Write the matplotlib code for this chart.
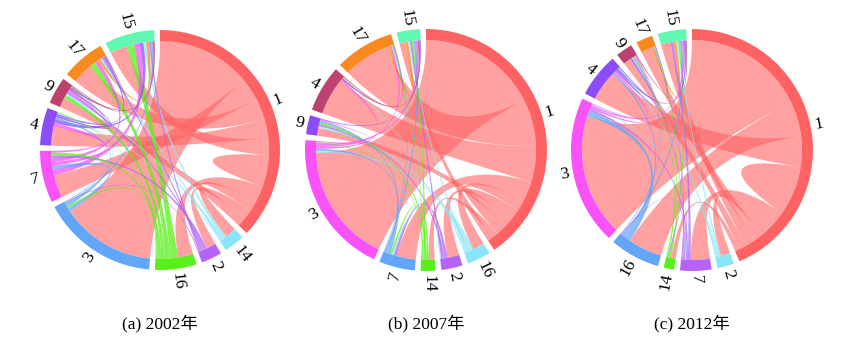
import numpy as np
import matplotlib.pyplot as plt
from matplotlib.patches import Polygon

# sector order (clockwise from top) and links (a, b, value) for each year
labels_a = ['1', '14', '2', '16', '3', '7', '4', '9', '17', '15']
links_a = [
    ('1', '1', 8.5), ('1', '14', 6), ('1', '2', 5), ('1', '16', 8), ('1', '3', 50),
    ('1', '7', 12), ('1', '4', 10), ('1', '9', 5), ('1', '17', 11), ('1', '15', 9),
    ('14', '15', 1.5), ('14', '9', 1), ('14', '4', 0.5), ('14', '17', 1),
    ('2', '7', 1.5), ('2', '17', 1), ('2', '15', 1), ('2', '3', 0.5), ('2', '9', 1),
    ('16', '15', 4), ('16', '17', 3), ('16', '9', 2), ('16', '7', 1.5), ('16', '3', 1), ('16', '4', 0.5),
    ('3', '7', 2), ('3', '4', 1), ('3', '9', 0.5), ('3', '15', 1),
    ('7', '15', 3), ('7', '17', 2), ('7', '9', 1), ('7', '4', 2),
    ('4', '9', 1), ('4', '17', 1), ('4', '15', 2),
    ('9', '17', 0.5), ('9', '15', 1),
    ('17', '15', 1.5),
]

labels_b = ['1', '16', '2', '14', '7', '3', '9', '4', '17', '15']
links_b = [
    ('1', '1', 3), ('1', '16', 6), ('1', '2', 6), ('1', '14', 3), ('1', '7', 10),
    ('1', '3', 62), ('1', '9', 4), ('1', '4', 19), ('1', '17', 24), ('1', '15', 3),
    ('16', '2', 0.5), ('16', '7', 1), ('16', '3', 1), ('16', '9', 1), ('16', '4', 0.5), ('16', '15', 1),
    ('2', '7', 1.5), ('2', '9', 1), ('2', '15', 1),
    ('14', '7', 1), ('14', '9', 1), ('14', '3', 0.5), ('14', '15', 1), ('14', '17', 0.5),
    ('7', '3', 1), ('7', '9', 1), ('7', '15', 1), ('7', '17', 0.5),
    ('3', '9', 0.5), ('3', '15', 1), ('3', '4', 1), ('3', '17', 1),
    ('9', '15', 0.5),
    ('4', '15', 1), ('4', '17', 0.5),
    ('17', '15', 1.5),
]

labels_c = ['1', '2', '7', '14', '16', '3', '4', '9', '17', '15']
links_c = [
    ('1', '1', 13), ('1', '2', 5), ('1', '7', 10), ('1', '14', 2.5), ('1', '16', 18),
    ('1', '3', 64), ('1', '4', 16), ('1', '9', 4), ('1', '17', 5), ('1', '15', 5),
    ('2', '7', 0.5), ('2', '15', 1), ('2', '9', 0.5), ('2', '3', 0.5), ('2', '4', 0.5),
    ('7', '14', 0.5), ('7', '15', 1.5), ('7', '9', 0.5), ('7', '3', 1), ('7', '16', 0.5), ('7', '17', 0.5),
    ('14', '15', 1), ('14', '9', 0.5), ('14', '17', 0.5),
    ('16', '3', 3), ('16', '15', 1), ('16', '9', 0.5), ('16', '4', 1),
    ('3', '4', 1), ('3', '15', 1), ('3', '9', 0.5),
    ('4', '15', 1), ('4', '17', 0.5), ('4', '9', 1),
    ('9', '15', 0.5),
    ('17', '15', 1.5),
]

captions = ['(a) 2002年', '(b) 2007年', '(c) 2012年']

# colours follow the sector position
palette = ['#FF6262', '#88E6F8', '#B464F8', '#58F01A', '#62A6F8',
           '#F852F8', '#8C4CFA', '#BE4270', '#FA8A1E', '#62F8B2']


def xy(cx, cy, ang, r):
    t = np.radians(ang)
    return cx + r * np.sin(t), cy - r * np.cos(t)


def arc_pts(cx, cy, a0, a1, r, n=40):
    t = np.linspace(a0, a1, n)
    x, y = xy(cx, cy, t, r)
    return np.column_stack([x, y])


def bez_pts(cx, cy, p0, p2, n=50):
    t = np.linspace(0, 1, n)[:, None]
    c = np.array([cx, cy])
    return (1 - t) ** 2 * p0 + 2 * t * (1 - t) * c + t ** 2 * p2


def chord(ax, cx, cy, labels, links, R, width=11, gap=2.8):
    n = len(labels)
    tot = {s: 0.0 for s in labels}
    for a, b, v in links:
        tot[a] += v
        tot[b] += v
    scale = (360 - n * gap) / sum(tot.values())
    start = {}
    ang = 0.0
    for s in labels:
        start[s] = ang
        ang += tot[s] * scale + gap
    mid = {s: start[s] + tot[s] * scale / 2 for s in labels}

    # link ends inside a sector: widest first
    pos = {}
    for s in labels:
        ends = []
        for k, (a, b, v) in enumerate(links):
            if a == s and b == s:
                ends.append((-v, labels.index(s), k, 0))
                ends.append((-v, labels.index(s), k, 1))
            elif a == s:
                ends.append((-v, labels.index(b), k, 0))
            elif b == s:
                ends.append((-v, labels.index(a), k, 1))
        ends.sort()
        p = start[s]
        for nv, idx, k, side in ends:
            pos[(k, side)] = (p, p - nv * scale)
            p -= nv * scale

    rin = R - width
    order = sorted(range(len(links)), key=lambda k: -links[k][2])
    for k in order:
        a, b, v = links[k]
        a0, a1 = pos[(k, 0)]
        b0, b1 = pos[(k, 1)]
        pa = arc_pts(cx, cy, a0, a1, rin)
        pb = arc_pts(cx, cy, b0, b1, rin)
        pts = np.vstack([pa, bez_pts(cx, cy, pa[-1], pb[0]), pb, bez_pts(cx, cy, pb[-1], pa[0])])
        ci = min(labels.index(a), labels.index(b))
        alpha = 0.6 if ci == 0 else 0.75
        ax.add_patch(Polygon(pts, closed=True, facecolor=palette[ci], edgecolor='none',
                             alpha=alpha, zorder=2))

    for i, s in enumerate(labels):
        a0 = start[s]
        a1 = a0 + tot[s] * scale
        ring = np.vstack([arc_pts(cx, cy, a0, a1, R), arc_pts(cx, cy, a1, a0, rin)])
        ax.add_patch(Polygon(ring, closed=True, facecolor=palette[i], edgecolor='none', zorder=3))
        lx, ly = xy(cx, cy, mid[s], R + 4)
        rot = (90 - mid[s] + 180) % 360 - 180
        ha = 'left'
        if rot > 90 or rot < -90:
            rot = rot - 180 if rot > 0 else rot + 180
            ha = 'right'
        ax.text(lx, ly, s, rotation=rot, rotation_mode='anchor', ha=ha, va='center',
                fontsize=12.5, family='Liberation Serif', zorder=4)


fig = plt.figure(figsize=(8.51, 3.40), dpi=100)
ax = fig.add_axes([0, 0, 1, 1])
ax.set_xlim(0, 851)
ax.set_ylim(340, 0)
ax.axis('off')

centers = [160, 426, 692]
chord(ax, centers[0], 150, labels_a, links_a, 120)
chord(ax, centers[1], 150, labels_b, links_b, 121)
chord(ax, centers[2], 150, labels_c, links_c, 121)

for x, t in zip(centers, captions):
    ax.text(x, 323, t, ha='center', va='center', fontsize=12.5,
            family=['Liberation Serif', 'Noto Sans CJK SC'])

fig.savefig('out.png', dpi=100)
